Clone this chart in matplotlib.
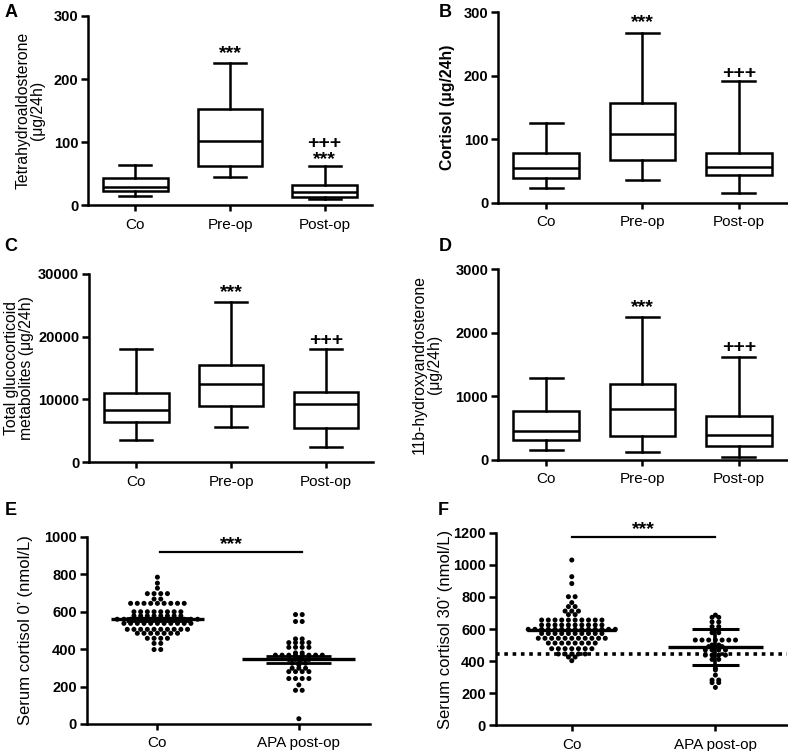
import numpy as np
import matplotlib.pyplot as plt

plt.rcParams['font.family'] = ['Liberation Sans', 'DejaVu Sans']

# box plot data: whisker low, q1, median, q3, whisker high
box_groups = ['Co', 'Pre-op', 'Post-op']

a_min = [14, 45, 9]
a_q1 = [22, 62, 13]
a_med = [29, 101, 20]
a_q3 = [43, 152, 32]
a_max = [64, 225, 62]

b_min = [24, 36, 16]
b_q1 = [40, 68, 44]
b_med = [55, 109, 57]
b_q3 = [78, 157, 79]
b_max = [126, 267, 191]

c_min = [3560, 5530, 2450]
c_q1 = [6330, 8880, 5480]
c_med = [8250, 12500, 9200]
c_q3 = [11010, 15530, 11120]
c_max = [17980, 25580, 17980]

d_min = [163, 126, 53]
d_q1 = [316, 384, 221]
d_med = [463, 800, 400]
d_q3 = [763, 1200, 695]
d_max = [1289, 2247, 1621]

# significance marks: (group, y, text)
a_marks = [(1, 240, '***'), (2, 97, '+++'), (2, 72, '***')]
b_marks = [(1, 283, '***'), (2, 203, '+++')]
c_marks = [(1, 27000, '***'), (2, 19400, '+++')]
d_marks = [(1, 2400, '***'), (2, 1760, '+++')]

# scatter data (value levels and number of dots at each level)
scat_groups = ['Co', 'APA post-op']

e_co_levels = [785, 753, 726, 697, 668, 645, 600, 578, 560, 538, 506, 485, 458, 431, 398]
e_co_counts = [1, 1, 1, 4, 2, 9, 8, 8, 13, 11, 10, 7, 4, 2, 2]
e_apa_levels = [585, 548, 455, 435, 410, 380, 368, 345, 325, 316, 298, 280, 243, 209, 180, 28]
e_apa_counts = [2, 2, 2, 4, 4, 2, 8, 4, 3, 1, 3, 4, 4, 1, 2, 1]
e_mean = [560, 345]
e_err = [8, 20]

f_co_levels = [1031, 927, 884, 802, 765, 740, 712, 690, 656, 625, 598, 572, 542, 512, 477, 444, 425, 402]
f_co_counts = [1, 1, 1, 2, 1, 2, 3, 2, 10, 10, 14, 10, 11, 8, 7, 5, 2, 1]
f_apa_levels = [687, 673, 644, 615, 577, 531, 500, 490, 469, 437, 410, 354, 344, 312, 281, 265, 235]
f_apa_counts = [1, 2, 2, 2, 2, 7, 2, 3, 4, 4, 2, 1, 1, 1, 2, 2, 1]
f_mean = [595, 488]
f_err = [0, 113]
f_cutoff = 445

fig = plt.figure(figsize=(7.88, 7.51), dpi=100)

lw = 1.8


def style_axes(ax, ylim, yticks, xlabels, ylabel, label_x, bold_label=False, label_size=11):
    ax.set_ylim(*ylim)
    ax.set_yticks(yticks)
    ax.set_xticks(range(len(xlabels)))
    ax.set_xticklabels(xlabels, fontsize=11)
    for s in ['top', 'right']:
        ax.spines[s].set_visible(False)
    for s in ['left', 'bottom']:
        ax.spines[s].set_linewidth(lw)
    ax.tick_params(axis='y', direction='out', length=5, width=lw, labelsize=10.5, pad=2)
    ax.tick_params(axis='x', direction='out', length=4, width=lw, pad=5)
    for t in ax.get_yticklabels():
        t.set_fontweight('bold')
    ax.set_ylabel(ylabel, fontsize=label_size, fontweight='bold' if bold_label else 'normal',
                  linespacing=1.0)
    ax.yaxis.set_label_coords(label_x, 0.5)


def box_panel(rect, mins, q1, med, q3, maxs, marks, ylim, yticks, ylabel, label_x, bold_label=False):
    ax = fig.add_axes(rect)
    stats = []
    for i in range(len(box_groups)):
        stats.append(dict(whislo=mins[i], q1=q1[i], med=med[i], q3=q3[i],
                          whishi=maxs[i], fliers=[]))
    ax.bxp(stats, positions=range(3), widths=0.68, capwidths=0.34, showfliers=False,
           patch_artist=True,
           boxprops=dict(facecolor='white', edgecolor='black', linewidth=lw),
           medianprops=dict(color='black', linewidth=lw),
           whiskerprops=dict(color='black', linewidth=lw),
           capprops=dict(color='black', linewidth=lw))
    ax.set_xlim(-0.5, 2.5)
    style_axes(ax, ylim, yticks, box_groups, ylabel, label_x, bold_label, 11.3)
    for g, y, txt in marks:
        ax.text(g, y, txt, ha='center', va='center', fontsize=14, fontweight='bold')
    return ax


def dot_rows(ax, xc, levels, counts, spacing_px=6.7):
    # prism-style scatter: each value row centred on the group
    x0 = ax.transData.transform((0, 0))[0]
    x1 = ax.transData.transform((1, 0))[0]
    step = spacing_px / (x1 - x0)
    xs, ys = [], []
    for v, n in zip(levels, counts):
        offs = (np.arange(n) - (n - 1) / 2) * step
        xs.extend(xc + offs)
        ys.extend([v] * n)
    ax.scatter(xs, ys, s=13, color='black', edgecolors='none', zorder=3, clip_on=False)


# A
box_panel([0.1117, 0.727, 0.3604, 0.2517], a_min, a_q1, a_med, a_q3, a_max, a_marks,
          (0, 300), [0, 100, 200, 300], 'Tetrahydroaldosterone\n(μg/24h)', -0.15)
# B
box_panel([0.632, 0.7297, 0.3667, 0.2543], b_min, b_q1, b_med, b_q3, b_max, b_marks,
          (0, 300), [0, 100, 200, 300], 'Cortisol (μg/24h)', -0.15, bold_label=True)
# C
box_panel([0.113, 0.3848, 0.3604, 0.2504], c_min, c_q1, c_med, c_q3, c_max, c_marks,
          (0, 30000), [0, 10000, 20000, 30000], 'Total glucocorticoid\nmetabolites (μg/24h)', -0.195)
# D
box_panel([0.632, 0.3875, 0.3667, 0.2543], d_min, d_q1, d_med, d_q3, d_max, d_marks,
          (0, 3000), [0, 1000, 2000, 3000], '11b-hydroxyandrosterone\n(μg/24h)', -0.195)

# E
axE = fig.add_axes([0.110, 0.036, 0.359, 0.249])
axE.set_xlim(-0.5, 1.5)
style_axes(axE, (0, 1000), range(0, 1001, 200), scat_groups, 'Serum cortisol 0’ (nmol/L)', -0.19,
           label_size=12)
dot_rows(axE, 0, e_co_levels, e_co_counts)
dot_rows(axE, 1, e_apa_levels, e_apa_counts)
axE.hlines(e_mean[0], -0.33, 0.33, color='black', lw=2.4, zorder=4)
axE.hlines([e_mean[0] - e_err[0], e_mean[0] + e_err[0]], -0.22, 0.22, color='black', lw=2.0, zorder=4)
axE.hlines(e_mean[1], 1 - 0.4, 1 + 0.4, color='black', lw=2.4, zorder=4)
axE.hlines([e_mean[1] - e_err[1], e_mean[1] + e_err[1]], 1 - 0.23, 1 + 0.23, color='black', lw=2.0, zorder=4)
axE.vlines(1, e_mean[1] - e_err[1], e_mean[1] + e_err[1], color='black', lw=2.4, zorder=4)
axE.plot([0.02, 1.02], [918, 918], color='black', lw=1.6)
axE.text(0.52, 957, '***', ha='center', va='center', fontsize=14, fontweight='bold')

# F
axF = fig.add_axes([0.629, 0.0346, 0.370, 0.2557])
axF.set_xlim(-0.53, 1.5)
style_axes(axF, (0, 1200), range(0, 1201, 200), scat_groups, 'Serum cortisol 30’ (nmol/L)', -0.145,
           label_size=12)
axF.axhline(f_cutoff, color='black', lw=2.6, ls=(0, (1, 1.3)), zorder=2)
dot_rows(axF, 0, f_co_levels, f_co_counts)
dot_rows(axF, 1, f_apa_levels, f_apa_counts)
axF.hlines(f_mean[0], -0.31, 0.31, color='black', lw=2.4, zorder=4)
axF.hlines(f_mean[1], 1 - 0.33, 1 + 0.33, color='black', lw=2.4, zorder=4)
axF.hlines([f_mean[1] - f_err[1], f_mean[1] + f_err[1]], 1 - 0.165, 1 + 0.165, color='black', lw=2.2, zorder=4)
axF.vlines(1, f_mean[1] - f_err[1], f_mean[1] + f_err[1], color='black', lw=2.6, zorder=4)
axF.plot([0, 1], [1175, 1175], color='black', lw=1.6, clip_on=False)
axF.text(0.5, 1220, '***', ha='center', va='center', fontsize=14, fontweight='bold')

# panel letters
for x, y, s in [(0.006, 0.995, 'A'), (0.557, 0.995, 'B'), (0.006, 0.683, 'C'),
                (0.557, 0.683, 'D'), (0.006, 0.332, 'E'), (0.555, 0.332, 'F')]:
    fig.text(x, y, s, ha='left', va='top', fontsize=13, fontweight='bold')

fig.savefig('out.png', dpi=100)
